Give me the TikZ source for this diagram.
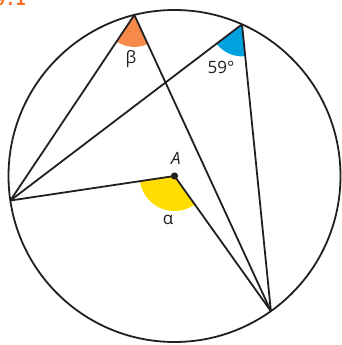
\documentclass[tikz,border=0pt]{standalone}
\usepackage{fontspec}
\setmainfont{Open Sans}
\newfontfamily\labfont{DejaVu Sans Mono}
\usetikzlibrary{angles,calc}
\definecolor{lineblk}{HTML}{231F20}
\definecolor{betaorange}{HTML}{F58A4B}
\definecolor{angblue}{HTML}{00A3DF}
\definecolor{angyellow}{HTML}{FFDD00}
\definecolor{headorange}{HTML}{F37021}
\tikzset{
  geoline/.style={draw=lineblk, line width=1.8pt, line join=round},
  angfill/.style={angle radius=32pt},
  lbl/.style={font=\fontsize{17}{17}\selectfont, text=lineblk, inner sep=0pt},
}
\begin{document}
\begin{tikzpicture}[x=1pt,y=1pt]
\useasboundingbox (0,0) rectangle (341,345);
\begin{scope}
\clip (0,0) rectangle (341,345);
\node[anchor=base east, text=headorange, font=\labfont\bfseries\fontsize{17}{17}\selectfont, inner sep=0pt] (head) at (26,339) {9.1};
\end{scope}
\coordinate (C) at (174.5,169);
\coordinate (P1) at ($(C)+(104:166)$);
\coordinate (P2) at ($(C)+(66:166)$);
\coordinate (L) at ($(C)+(188.5:166)$);
\coordinate (R) at ($(C)+(-54.5:166)$);
\coordinate (A) at (C);
% angle fills
\pic[fill=betaorange, angfill] {angle=L--P1--R};
\pic[fill=angblue, angfill] {angle=L--P2--R};
\pic[fill=angyellow, angle radius=35pt] {angle=L--A--R};
% lines
\draw[geoline] (C) circle[radius=166];
\draw[geoline] (L) -- (P1);
\draw[geoline] (L) -- (P2);
\draw[geoline] (L) -- (A) -- (R);
\draw[geoline] (P1) -- (R);
\draw[geoline] (P2) -- (R);
\fill[lineblk] (A) circle[radius=3.6pt];
% labels
\node[lbl] (beta) at (131,286) {β};
\node[lbl] (fiftynine) at (221,278) {59°};
\node[lbl, font=\itshape\fontsize{17}{17}\selectfont] (Alab) at (176,187) {A};
\node[lbl] (alpha) at (168,125) {α};
\end{tikzpicture}
\end{document}
